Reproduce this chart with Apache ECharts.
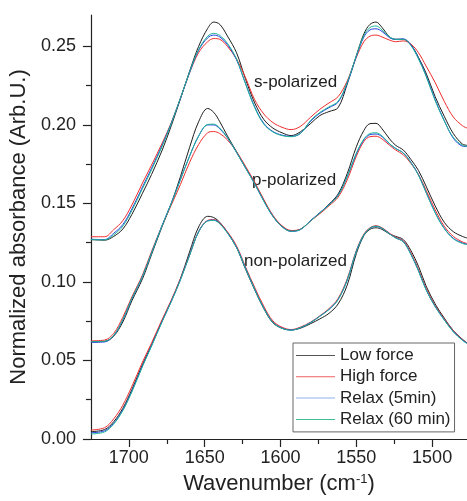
<!DOCTYPE html>
<html><head><meta charset="utf-8">
<script src="https://cdn.jsdelivr.net/npm/echarts@6/dist/echarts.min.js"></script>
<style>html,body{margin:0;padding:0;background:#fff}#c{width:467px;height:501px}</style>
</head><body><div id="c"></div>
<script>
const wavenumbers = [1725,1716,1710,1704,1698,1691,1685,1678,1672,1666,1660,1654,1648,1644,1640,1635,1629,1623,1617,1611,1605,1599,1593,1587,1580,1574,1568,1562,1556,1550,1545,1541,1537,1533,1528,1524,1519,1514,1509,1504,1498,1492,1486,1480,1477];

// s-polarized
const sLow   = [0.1270,0.1266,0.1290,0.1337,0.1430,0.1565,0.1685,0.1840,0.1995,0.2165,0.2340,0.2500,0.2615,0.2655,0.2640,0.2566,0.2460,0.2290,0.2140,0.2035,0.1980,0.1950,0.1932,0.1955,0.2010,0.2060,0.2085,0.2110,0.2260,0.2440,0.2580,0.2640,0.2655,0.2620,0.2560,0.2545,0.2545,0.2510,0.2430,0.2330,0.2180,0.2055,0.1945,0.1878,0.1870];
const sHigh  = [0.1288,0.1288,0.1333,0.1390,0.1490,0.1630,0.1745,0.1885,0.2015,0.2170,0.2330,0.2460,0.2530,0.2550,0.2545,0.2500,0.2420,0.2300,0.2160,0.2070,0.2015,0.1985,0.1970,0.1990,0.2050,0.2100,0.2140,0.2180,0.2280,0.2430,0.2530,0.2565,0.2572,0.2560,0.2540,0.2530,0.2535,0.2515,0.2460,0.2375,0.2270,0.2150,0.2050,0.1995,0.1980];
const sRelax5  = [0.1272,0.1270,0.1310,0.1365,0.1465,0.1605,0.1725,0.1872,0.2012,0.2168,0.2332,0.2475,0.2555,0.2572,0.2560,0.2512,0.2415,0.2262,0.2115,0.2010,0.1958,0.1935,0.1927,0.1945,0.2025,0.2075,0.2110,0.2145,0.2265,0.2435,0.2560,0.2605,0.2612,0.2595,0.2555,0.2545,0.2548,0.2510,0.2425,0.2315,0.2160,0.2028,0.1915,0.1865,0.1862];
const sRelax60 = [0.1270,0.1268,0.1300,0.1355,0.1455,0.1595,0.1715,0.1865,0.2010,0.2170,0.2335,0.2480,0.2565,0.2583,0.2570,0.2520,0.2420,0.2260,0.2110,0.2005,0.1955,0.1932,0.1925,0.1945,0.2030,0.2080,0.2115,0.2150,0.2270,0.2440,0.2570,0.2620,0.2630,0.2605,0.2560,0.2545,0.2545,0.2505,0.2420,0.2310,0.2155,0.2025,0.1920,0.1870,0.1865];

// p-polarized
const pLow   = [0.0620,0.0622,0.0655,0.0745,0.0880,0.1020,0.1175,0.1355,0.1500,0.1670,0.1855,0.2020,0.2105,0.2080,0.2020,0.1930,0.1830,0.1730,0.1630,0.1520,0.1420,0.1355,0.1325,0.1335,0.1390,0.1440,0.1495,0.1560,0.1690,0.1860,0.1965,0.2008,0.2010,0.1975,0.1910,0.1870,0.1840,0.1780,0.1710,0.1610,0.1485,0.1380,0.1320,0.1290,0.1280];
const pHigh  = [0.0625,0.0630,0.0672,0.0775,0.0905,0.1045,0.1195,0.1360,0.1490,0.1620,0.1760,0.1875,0.1950,0.1958,0.1945,0.1905,0.1830,0.1735,0.1635,0.1525,0.1425,0.1358,0.1328,0.1335,0.1390,0.1435,0.1485,0.1540,0.1650,0.1800,0.1895,0.1925,0.1928,0.1910,0.1870,0.1840,0.1810,0.1755,0.1685,0.1585,0.1460,0.1355,0.1290,0.1255,0.1245];
const pRelax5  = [0.0615,0.0618,0.0658,0.0758,0.0893,0.1035,0.1185,0.1362,0.1502,0.1652,0.1800,0.1928,0.2000,0.2000,0.1975,0.1918,0.1825,0.1725,0.1625,0.1515,0.1418,0.1352,0.1322,0.1333,0.1392,0.1442,0.1492,0.1552,0.1670,0.1815,0.1905,0.1938,0.1942,0.1925,0.1878,0.1850,0.1822,0.1762,0.1682,0.1572,0.1442,0.1342,0.1278,0.1248,0.1240];
const pRelax60 = [0.0620,0.0622,0.0660,0.0760,0.0895,0.1035,0.1185,0.1360,0.1500,0.1650,0.1800,0.1930,0.2003,0.2005,0.1980,0.1920,0.1825,0.1725,0.1625,0.1515,0.1418,0.1352,0.1323,0.1333,0.1390,0.1440,0.1490,0.1550,0.1670,0.1820,0.1910,0.1945,0.1950,0.1930,0.1880,0.1850,0.1820,0.1760,0.1680,0.1570,0.1440,0.1340,0.1275,0.1245,0.1238];

// non-polarized
const nLow   = [0.0047,0.0060,0.0110,0.0195,0.0315,0.0475,0.0600,0.0755,0.0880,0.1020,0.1190,0.1350,0.1418,0.1410,0.1380,0.1315,0.1220,0.1080,0.0950,0.0830,0.0740,0.0705,0.0695,0.0705,0.0735,0.0765,0.0800,0.0860,0.0980,0.1180,0.1295,0.1335,0.1345,0.1335,0.1305,0.1290,0.1270,0.1200,0.1100,0.0975,0.0860,0.0770,0.0690,0.0635,0.0612];
const nHigh  = [0.0057,0.0072,0.0128,0.0215,0.0335,0.0490,0.0612,0.0762,0.0885,0.1020,0.1170,0.1320,0.1392,0.1397,0.1375,0.1320,0.1230,0.1095,0.0965,0.0845,0.0752,0.0712,0.0697,0.0712,0.0745,0.0785,0.0830,0.0895,0.1020,0.1200,0.1305,0.1345,0.1358,0.1345,0.1310,0.1285,0.1262,0.1185,0.1080,0.0960,0.0850,0.0765,0.0688,0.0633,0.0612];
const nRelax5  = [0.0040,0.0052,0.0100,0.0185,0.0305,0.0466,0.0595,0.0750,0.0877,0.1014,0.1170,0.1320,0.1390,0.1394,0.1372,0.1314,0.1222,0.1087,0.0954,0.0834,0.0744,0.0706,0.0694,0.0708,0.0742,0.0782,0.0825,0.0888,0.1012,0.1195,0.1300,0.1342,0.1354,0.1342,0.1306,0.1281,0.1257,0.1177,0.1072,0.0952,0.0844,0.0760,0.0684,0.0630,0.0610];
const nRelax60 = [0.0032,0.0045,0.0095,0.0180,0.0300,0.0462,0.0592,0.0748,0.0875,0.1012,0.1168,0.1318,0.1388,0.1392,0.1370,0.1312,0.1220,0.1085,0.0952,0.0832,0.0742,0.0705,0.0693,0.0708,0.0742,0.0782,0.0825,0.0888,0.1012,0.1195,0.1300,0.1342,0.1355,0.1342,0.1305,0.1280,0.1255,0.1175,0.1070,0.0950,0.0842,0.0758,0.0682,0.0628,0.0608];

const seriesNames = ['Low force','High force','Relax (5min)','Relax (60 min)'];
const seriesColors = ['#1e1e1e','#ee2d2d','#2540e0','#1fb596'];
const legendColors = ['#555555','#f06060','#8fb0ee','#40c090'];
const xTicks = [1500,1550,1600,1650,1700];
const xMinorTicks = [1525,1575,1625,1675];
const yTicks = [0,0.05,0.10,0.15,0.20,0.25];
const yMinorTicks = [0.025,0.075,0.125,0.175,0.225];
const groupLabels = ['s-polarized','p-polarized','non-polarized'];

const FONT = '"Liberation Sans", Arial, sans-serif';
const groups = [
  [sLow,sHigh,sRelax5,sRelax60],
  [pLow,pHigh,pRelax5,pRelax60],
  [nLow,nHigh,nRelax5,nRelax60]
];
const series = [];
groups.forEach(g => {
  g.forEach((vals, i) => {
    series.push({
      type: 'line', name: seriesNames[i], xAxisIndex: 0, yAxisIndex: 0,
      data: wavenumbers.map((w, k) => [w, vals[k]]),
      symbol: 'none', smooth: 0.35, silent: true,
      lineStyle: { width: 1, color: seriesColors[i] },
      itemStyle: { color: seriesColors[i] },
      z: 2 + i
    });
  });
});

const chart = echarts.init(document.getElementById('c'), null, { renderer: 'canvas' });
chart.setOption({
  animation: false,
  backgroundColor: '#fff',
  grid: { left: 87, right: 0, top: 15, bottom: 62 },
  xAxis: [{
    type: 'value', inverse: true, min: 1477, max: 1725,
    axisLine: { show: true, lineStyle: { color: '#222', width: 1.2 } },
    axisTick: { show: true, inside: false, length: 8, customValues: xTicks, lineStyle: { color: '#222', width: 1.2 } },
    axisLabel: { customValues: xTicks, formatter: v => String(v), fontSize: 18, color: '#222', fontFamily: FONT, margin: 10 },
    splitLine: { show: false },
    name: '{a|Wavenumber (cm}{s|-1}{a|)}', nameLocation: 'middle', nameGap: 34,
    nameTextStyle: { rich: {
      a: { fontSize: 22, fontFamily: FONT, color: '#222' },
      s: { fontSize: 13, fontFamily: FONT, color: '#222', verticalAlign: 'top' }
    } }
  }, {
    type: 'value', inverse: true, min: 1477, max: 1725, position: 'bottom',
    axisLine: { show: false },
    axisTick: { show: true, length: 5, customValues: xMinorTicks, lineStyle: { color: '#222', width: 1.2 } },
    axisLabel: { show: false }, splitLine: { show: false }
  }],
  yAxis: [{
    type: 'value', min: 0, max: 0.27,
    axisLine: { show: true, lineStyle: { color: '#222', width: 1.2 } },
    axisTick: { show: true, length: 8, customValues: yTicks, lineStyle: { color: '#222', width: 1.2 } },
    axisLabel: { customValues: yTicks, formatter: v => v.toFixed(2), fontSize: 18, color: '#222', fontFamily: FONT, margin: 15 },
    splitLine: { show: false },
    name: 'Normalized absorbance (Arb.U.)', nameLocation: 'middle', nameGap: 55, nameRotate: 90,
    nameTextStyle: { fontSize: 22, fontFamily: FONT, color: '#222' }
  }, {
    type: 'value', min: 0, max: 0.27, position: 'left',
    axisLine: { show: false },
    axisTick: { show: true, length: 5, customValues: yMinorTicks, lineStyle: { color: '#222', width: 1.2 } },
    axisLabel: { show: false }, splitLine: { show: false }
  }],
  legend: {
    orient: 'vertical', left: 293, top: 343,
    data: seriesNames.map((n, i) => ({ name: n, icon: 'rect', itemStyle: { color: legendColors[i] } })),
    itemWidth: 39, itemHeight: 1, itemGap: 4.3,
    padding: [4, 4, 4, 3],
    borderColor: '#666', borderWidth: 1, backgroundColor: '#fff',
    textStyle: { fontSize: 17, fontFamily: FONT, color: '#222', lineHeight: 17 },
    selectedMode: false
  },
  graphic: [
    { type: 'text', x: 254, y: 82, style: { text: groupLabels[0], fontSize: 17, fontFamily: FONT, fill: '#222', verticalAlign: 'middle' } },
    { type: 'text', x: 252, y: 180, style: { text: groupLabels[1], fontSize: 17, fontFamily: FONT, fill: '#222', verticalAlign: 'middle' } },
    { type: 'text', x: 244, y: 261, style: { text: groupLabels[2], fontSize: 17, fontFamily: FONT, fill: '#222', verticalAlign: 'middle' } }
  ],
  series: series
});
</script>
</body></html>
